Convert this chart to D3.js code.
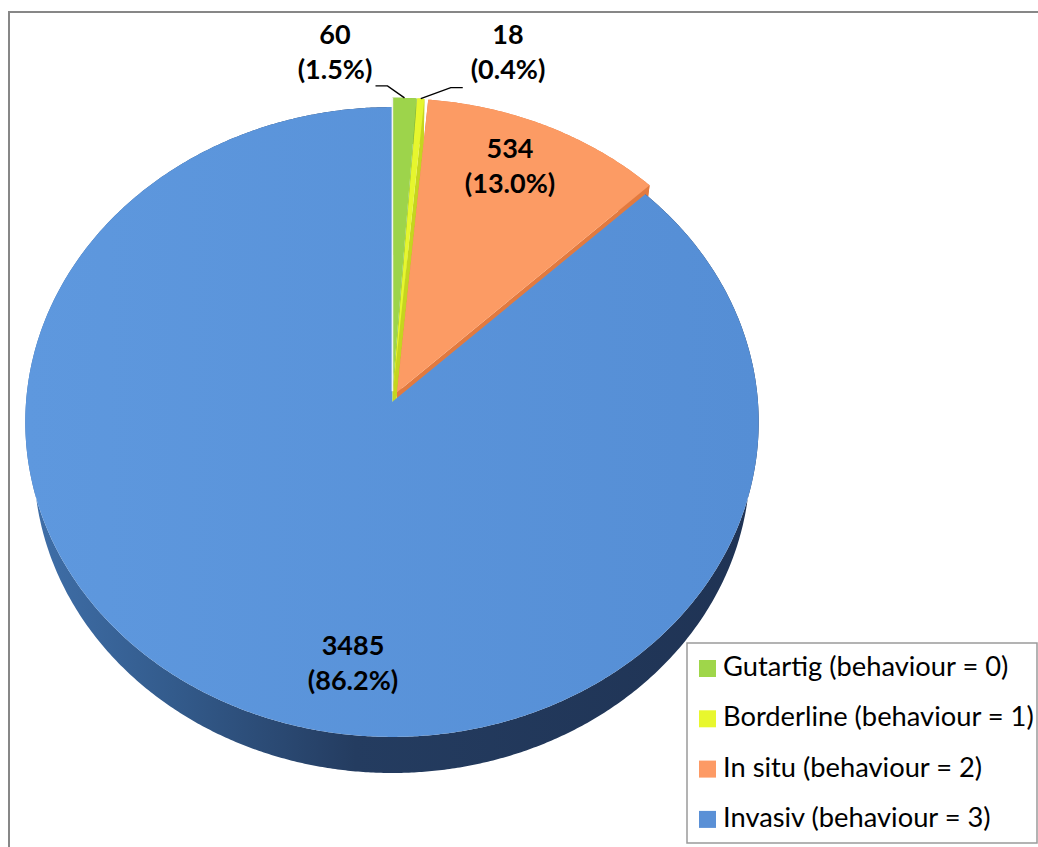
<!DOCTYPE html>
<html><head><meta charset="utf-8">
<script src="https://cdn.jsdelivr.net/npm/d3@7"></script>
<style>body{margin:0;background:#fff;} svg{display:block;}</style>
</head><body>
<svg id="chart" width="1038" height="847"></svg>
<script>
// ---------- data ----------
const categories = ["Gutartig (behaviour = 0)", "Borderline (behaviour = 1)", "In situ (behaviour = 2)", "Invasiv (behaviour = 3)"];
const values = [60, 18, 534, 3485];
const percentLabels = ["1.5%", "0.4%", "13.0%", "86.2%"];

// ---------- styles / layout ----------
const topColors = ["#9dd44b", "#e6f62e", "#fc9b64", "#5a92d8"];
const sideColors = ["#7db236", "#c5d51f", "#e27a3f", "#2b4670"];
const legendColors = ["#9fd64a", "#e8f72e", "#fd9a65", "#5a90d6"];
const explode = [0.034, 0.034, 0.034, 0];
const W = 1038, H = 847;
const cam = {cx: 392, cy: 402, sinA: 0.857, cosA: 0.515, L: 8.11, F: 2968, h: 0.2265, q: 0.765};

const svg = d3.select("#chart");
const defs = svg.append("defs");
const wallGrad = defs.append("linearGradient").attr("id", "wallBlue")
  .attr("gradientUnits", "userSpaceOnUse").attr("x1", 25).attr("x2", 760).attr("y1", 0).attr("y2", 0);
[[0, "#4070aa"], [0.2, "#335b8c"], [0.45, "#243c60"], [1, "#1f3354"]].forEach(s =>
  wallGrad.append("stop").attr("offset", s[0]).attr("stop-color", s[1]));
const topGrad = defs.append("linearGradient").attr("id", "topBlue")
  .attr("gradientUnits", "userSpaceOnUse").attr("x1", 25).attr("x2", 760).attr("y1", 0).attr("y2", 0);
[[0, "#5e98de"], [1, "#558ed5"]].forEach(s =>
  topGrad.append("stop").attr("offset", s[0]).attr("stop-color", s[1]));

// chart frame
svg.append("rect").attr("x", 9).attr("y", 12).attr("width", W).attr("height", H)
  .attr("fill", "none").attr("stroke", "#878787").attr("stroke-width", 2);

// ---------- projection ----------
function project(X, Y, Z) {
  const depth = cam.L + Y * cam.cosA - Z * cam.sinA;
  const ys = Y * cam.sinA + Z * cam.cosA;
  return [cam.cx + cam.F * X / depth, cam.cy - cam.F * ys / depth];
}
function tOf(theta) { return Math.atan2(cam.q * Math.sin(theta), Math.cos(theta)); }

const arcs = d3.pie().sort(null).value(d => d)(values);
arcs.forEach((a, i) => {
  const tm = tOf((a.startAngle + a.endAngle) / 2);
  a.ox = explode[i] * Math.sin(tm);
  a.oy = explode[i] * Math.cos(tm);
});
function rim(a, theta, Z) {
  const t = tOf(theta);
  return project(Math.sin(t) + a.ox, Math.cos(t) + a.oy, Z);
}
function centerPt(a, Z) { return project(a.ox, a.oy, Z); }
function samples(a) {
  const n = Math.max(4, Math.ceil((a.endAngle - a.startAngle) / (Math.PI / 360)));
  return d3.range(n + 1).map(k => a.startAngle + (a.endAngle - a.startAngle) * k / n);
}
const line = d3.line();
const gSide = svg.append("g"), gTop = svg.append("g");

// radial faces of exploded slices
arcs.forEach((a, i) => {
  if (!explode[i]) return;
  [a.startAngle, a.endAngle].forEach(th => {
    const pts = [centerPt(a, 0), rim(a, th, 0), rim(a, th, -cam.h), centerPt(a, -cam.h)];
    gSide.append("path").attr("d", line(pts) + "Z").attr("fill", sideColors[i]);
  });
});
// outer walls
arcs.forEach((a, i) => {
  const th = samples(a);
  const pts = th.map(x => rim(a, x, 0)).concat(th.slice().reverse().map(x => rim(a, x, -cam.h)));
  gSide.append("path").attr("d", line(pts) + "Z")
    .attr("fill", i === 3 ? "url(#wallBlue)" : sideColors[i]);
});
// top faces
arcs.forEach((a, i) => {
  const pts = [centerPt(a, 0)].concat(samples(a).map(x => rim(a, x, 0)));
  gTop.append("path").attr("d", line(pts) + "Z")
    .attr("fill", i === 3 ? "url(#topBlue)" : topColors[i]);
});
// thin light edge on the left of the first slice
{
  const a = arcs[0];
  svg.append("path").attr("d", line([centerPt(a, 0), rim(a, a.startAngle, 0)]))
    .attr("stroke", "#f4f4f4").attr("stroke-width", 1.6).attr("fill", "none");
}

// ---------- data labels ----------
const labelFont = "Lato, 'Open Sans', sans-serif";
const gLab = svg.append("g").attr("font-family", labelFont).attr("font-weight", "bold")
  .attr("font-size", 27).attr("text-anchor", "middle").attr("fill", "#000");
const labelPos = [[335, 44], [508, 44], [510, 158], [353, 655]];
const leaderBend = [[-17, -12, -29], [30, -11, 42], null, null];
arcs.forEach((a, i) => {
  const [lx, ly] = labelPos[i];
  const t = gLab.append("text").attr("x", lx).attr("y", ly);
  t.append("tspan").attr("x", lx).text(values[i]);
  t.append("tspan").attr("x", lx).attr("dy", 35).text("(" + percentLabels[i] + ")");
  if (leaderBend[i]) {
    const p0 = rim(a, (a.startAngle + a.endAngle) / 2, 0);
    const b = leaderBend[i];
    const p1 = [p0[0] + b[0], p0[1] + b[1]];
    const p2 = [p0[0] + b[2], p0[1] + b[1]];
    svg.append("path").attr("d", line([p0, p1, p2])).attr("fill", "none")
      .attr("stroke", "#000").attr("stroke-width", 1.4);
  }
});

// ---------- legend ----------
const lg = svg.append("g");
lg.append("rect").attr("x", 687).attr("y", 643).attr("width", 350).attr("height", 200)
  .attr("fill", "#fff").attr("stroke", "#9a9a9a").attr("stroke-width", 1.5);
categories.forEach((c, i) => {
  const by = 676 + i * 50.3;
  lg.append("rect").attr("x", 699).attr("y", by - 16).attr("width", 17).attr("height", 17)
    .attr("fill", legendColors[i]);
  lg.append("text").attr("x", 723).attr("y", by).attr("font-family", labelFont)
    .attr("font-size", 27.3).attr("fill", "#000").text(c);
});
</script>
</body></html>
